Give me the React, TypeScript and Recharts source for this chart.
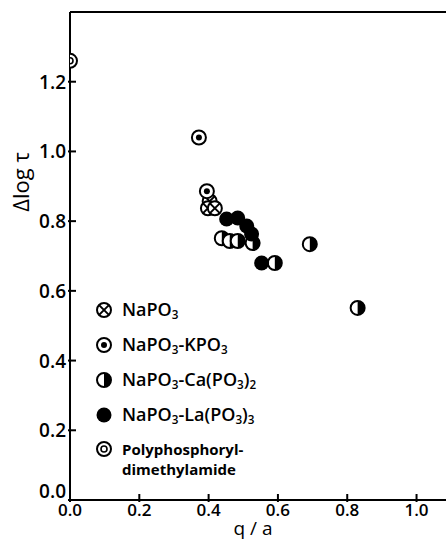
import React from 'react';
import {
  ScatterChart,
  Scatter,
  XAxis,
  YAxis,
  ReferenceLine,
} from 'recharts';

// q/a vs Δlog τ
const naPO3 = [
  { x: 0.403, y: 0.857 },
  { x: 0.398, y: 0.837 },
  { x: 0.418, y: 0.837 },
];
const naKPO3 = [
  { x: 0.372, y: 1.04 },
  { x: 0.395, y: 0.886 },
];
const naCaPO3 = [
  { x: 0.438, y: 0.751 },
  { x: 0.461, y: 0.743 },
  { x: 0.484, y: 0.743 },
  { x: 0.527, y: 0.737 },
  { x: 0.591, y: 0.68 },
  { x: 0.692, y: 0.734 },
  { x: 0.83, y: 0.551 },
];
const naLaPO3 = [
  { x: 0.452, y: 0.806 },
  { x: 0.484, y: 0.809 },
  { x: 0.51, y: 0.786 },
  { x: 0.524, y: 0.763 },
  { x: 0.553, y: 0.68 },
];
const polyphos = [{ x: 0.0, y: 1.26 }];

const xTicks = [0, 0.2, 0.4, 0.6, 0.8, 1.0];
const yTicks = [0, 0.2, 0.4, 0.6, 0.8, 1.0, 1.2];

const FONT = '"Open Sans", "DejaVu Sans", sans-serif';
const R = 7;

type Pt = { cx?: number; cy?: number };

const Crossed = ({ cx = 0, cy = 0 }: Pt) => {
  const d = R * 0.7;
  return (
    <g>
      <circle cx={cx} cy={cy} r={R} fill="#fff" stroke="#000" strokeWidth={2} />
      <line x1={cx - d} y1={cy - d} x2={cx + d} y2={cy + d} stroke="#000" strokeWidth={2} />
      <line x1={cx - d} y1={cy + d} x2={cx + d} y2={cy - d} stroke="#000" strokeWidth={2} />
    </g>
  );
};

const Dotted = ({ cx = 0, cy = 0 }: Pt) => (
  <g>
    <circle cx={cx} cy={cy} r={R} fill="#fff" stroke="#000" strokeWidth={2} />
    <circle cx={cx} cy={cy} r={3} fill="#000" />
  </g>
);

const Half = ({ cx = 0, cy = 0 }: Pt) => (
  <g>
    <circle cx={cx} cy={cy} r={R} fill="#fff" stroke="#000" strokeWidth={2} />
    <path d={`M ${cx} ${cy - R} A ${R} ${R} 0 0 1 ${cx} ${cy + R} Z`} fill="#000" />
  </g>
);

const Filled = ({ cx = 0, cy = 0 }: Pt) => <circle cx={cx} cy={cy} r={R + 0.5} fill="#000" />;

const Double = ({ cx = 0, cy = 0 }: Pt) => (
  <g>
    <circle cx={cx} cy={cy} r={R} fill="#fff" stroke="#000" strokeWidth={2} />
    <circle cx={cx} cy={cy} r={3} fill="#fff" stroke="#000" strokeWidth={1.6} />
  </g>
);

const YTick = (props: any) => {
  const { x, y, payload } = props;
  // the 0.0 label sits a little above its tick, clear of the x labels
  const dy = payload.value === 0 ? -2 : 7;
  return (
    <g>
      <line x1={x} y1={y} x2={x + 8} y2={y} stroke="#000" strokeWidth={2} />
      <text x={x - 2} y={y} dy={dy} textAnchor="end" fontSize={19} fontFamily={FONT} fontWeight={600} fill="#000">
        {payload.value.toFixed(1)}
      </text>
    </g>
  );
};

const XTick = (props: any) => {
  const { x, y, payload } = props;
  return (
    <g>
      <line x1={x} y1={y} x2={x} y2={y - 8} stroke="#000" strokeWidth={2} />
      <text x={x} y={y} dy={14} textAnchor="middle" fontSize={17} fontFamily={FONT} fontWeight={600} fill="#000">
        {payload.value.toFixed(1)}
      </text>
    </g>
  );
};

const Sub = ({ children }: { children: React.ReactNode }) => (
  <sub style={{ fontSize: '0.65em', verticalAlign: '-0.25em' }}>{children}</sub>
);

const legendItems: { shape: (p: Pt) => React.ReactElement; label: React.ReactNode }[] = [
  { shape: Crossed, label: <>NaPO<Sub>3</Sub></> },
  { shape: Dotted, label: <>NaPO<Sub>3</Sub>-KPO<Sub>3</Sub></> },
  { shape: Half, label: <>NaPO<Sub>3</Sub>-Ca(PO<Sub>3</Sub>)<Sub>2</Sub></> },
  { shape: Filled, label: <>NaPO<Sub>3</Sub>-La(PO<Sub>3</Sub>)<Sub>3</Sub></> },
];

const LegendBox = () => (
  <div style={{ fontFamily: FONT, color: '#000' }}>
    {legendItems.map((it, i) => (
      <div key={i} style={{ display: 'flex', alignItems: 'center', height: 35 }}>
        <svg width={18} height={18} style={{ marginRight: 9 }}>
          {it.shape({ cx: 9, cy: 9 })}
        </svg>
        <span style={{ fontSize: 18, fontWeight: 600 }}>{it.label}</span>
      </div>
    ))}
    <div style={{ display: 'flex', alignItems: 'flex-start', height: 40, paddingTop: 8 }}>
      <svg width={18} height={18} style={{ marginRight: 9 }}>
        {Double({ cx: 9, cy: 9 })}
      </svg>
      <span style={{ fontSize: 15, fontWeight: 700, lineHeight: '20px', marginTop: -1 }}>
        Polyphosphoryl-
        <br />
        dimethylamide
      </span>
    </div>
  </div>
);

export default function App() {
  return (
    <div style={{ position: 'absolute', left: 0, top: 0, width: 446, height: 542, background: '#fff', overflow: 'hidden' }}>
      <ScatterChart width={446} height={542} margin={{ top: 12, right: 0, bottom: 0, left: 0 }}>
        <XAxis
          type="number"
          dataKey="x"
          domain={[0, 1.085]}
          ticks={xTicks}
          height={42}
          tickSize={0}
          tickLine={false}
          tick={<XTick />}
          axisLine={{ stroke: '#000', strokeWidth: 2 }}
          allowDataOverflow
        />
        <YAxis
          type="number"
          dataKey="y"
          domain={[0, 1.4]}
          ticks={yTicks}
          width={70}
          tickSize={0}
          tickLine={false}
          tick={<YTick />}
          axisLine={{ stroke: '#000', strokeWidth: 2 }}
          allowDataOverflow
        />
        <ReferenceLine y={1.4} stroke="#000" strokeWidth={2} />
        <Scatter name="NaPO3" data={naPO3} shape={Crossed} isAnimationActive={false} />
        <Scatter name="NaPO3-KPO3" data={naKPO3} shape={Dotted} isAnimationActive={false} />
        <Scatter name="NaPO3-Ca(PO3)2" data={naCaPO3} shape={Half} isAnimationActive={false} />
        <Scatter name="NaPO3-La(PO3)3" data={naLaPO3} shape={Filled} isAnimationActive={false} />
        <Scatter name="Polyphosphoryl-dimethylamide" data={polyphos} shape={Double} isAnimationActive={false} />
      </ScatterChart>
      <div style={{ position: 'absolute', left: 95, top: 292, width: 260 }}>
        <LegendBox />
      </div>
      <div
        style={{
          position: 'absolute',
          left: 20,
          top: 182,
          transform: 'translate(-50%, -50%) rotate(-90deg)',
          fontFamily: FONT,
          fontSize: 22,
          fontWeight: 500,
          whiteSpace: 'nowrap',
        }}
      >
        Δlog τ
      </div>
      <div
        style={{
          position: 'absolute',
          left: 253,
          top: 528,
          transform: 'translate(-50%, -50%)',
          fontFamily: FONT,
          fontSize: 19,
          fontWeight: 500,
          whiteSpace: 'nowrap',
          lineHeight: '18px',
        }}
      >
        q / a
      </div>
    </div>
  );
}
